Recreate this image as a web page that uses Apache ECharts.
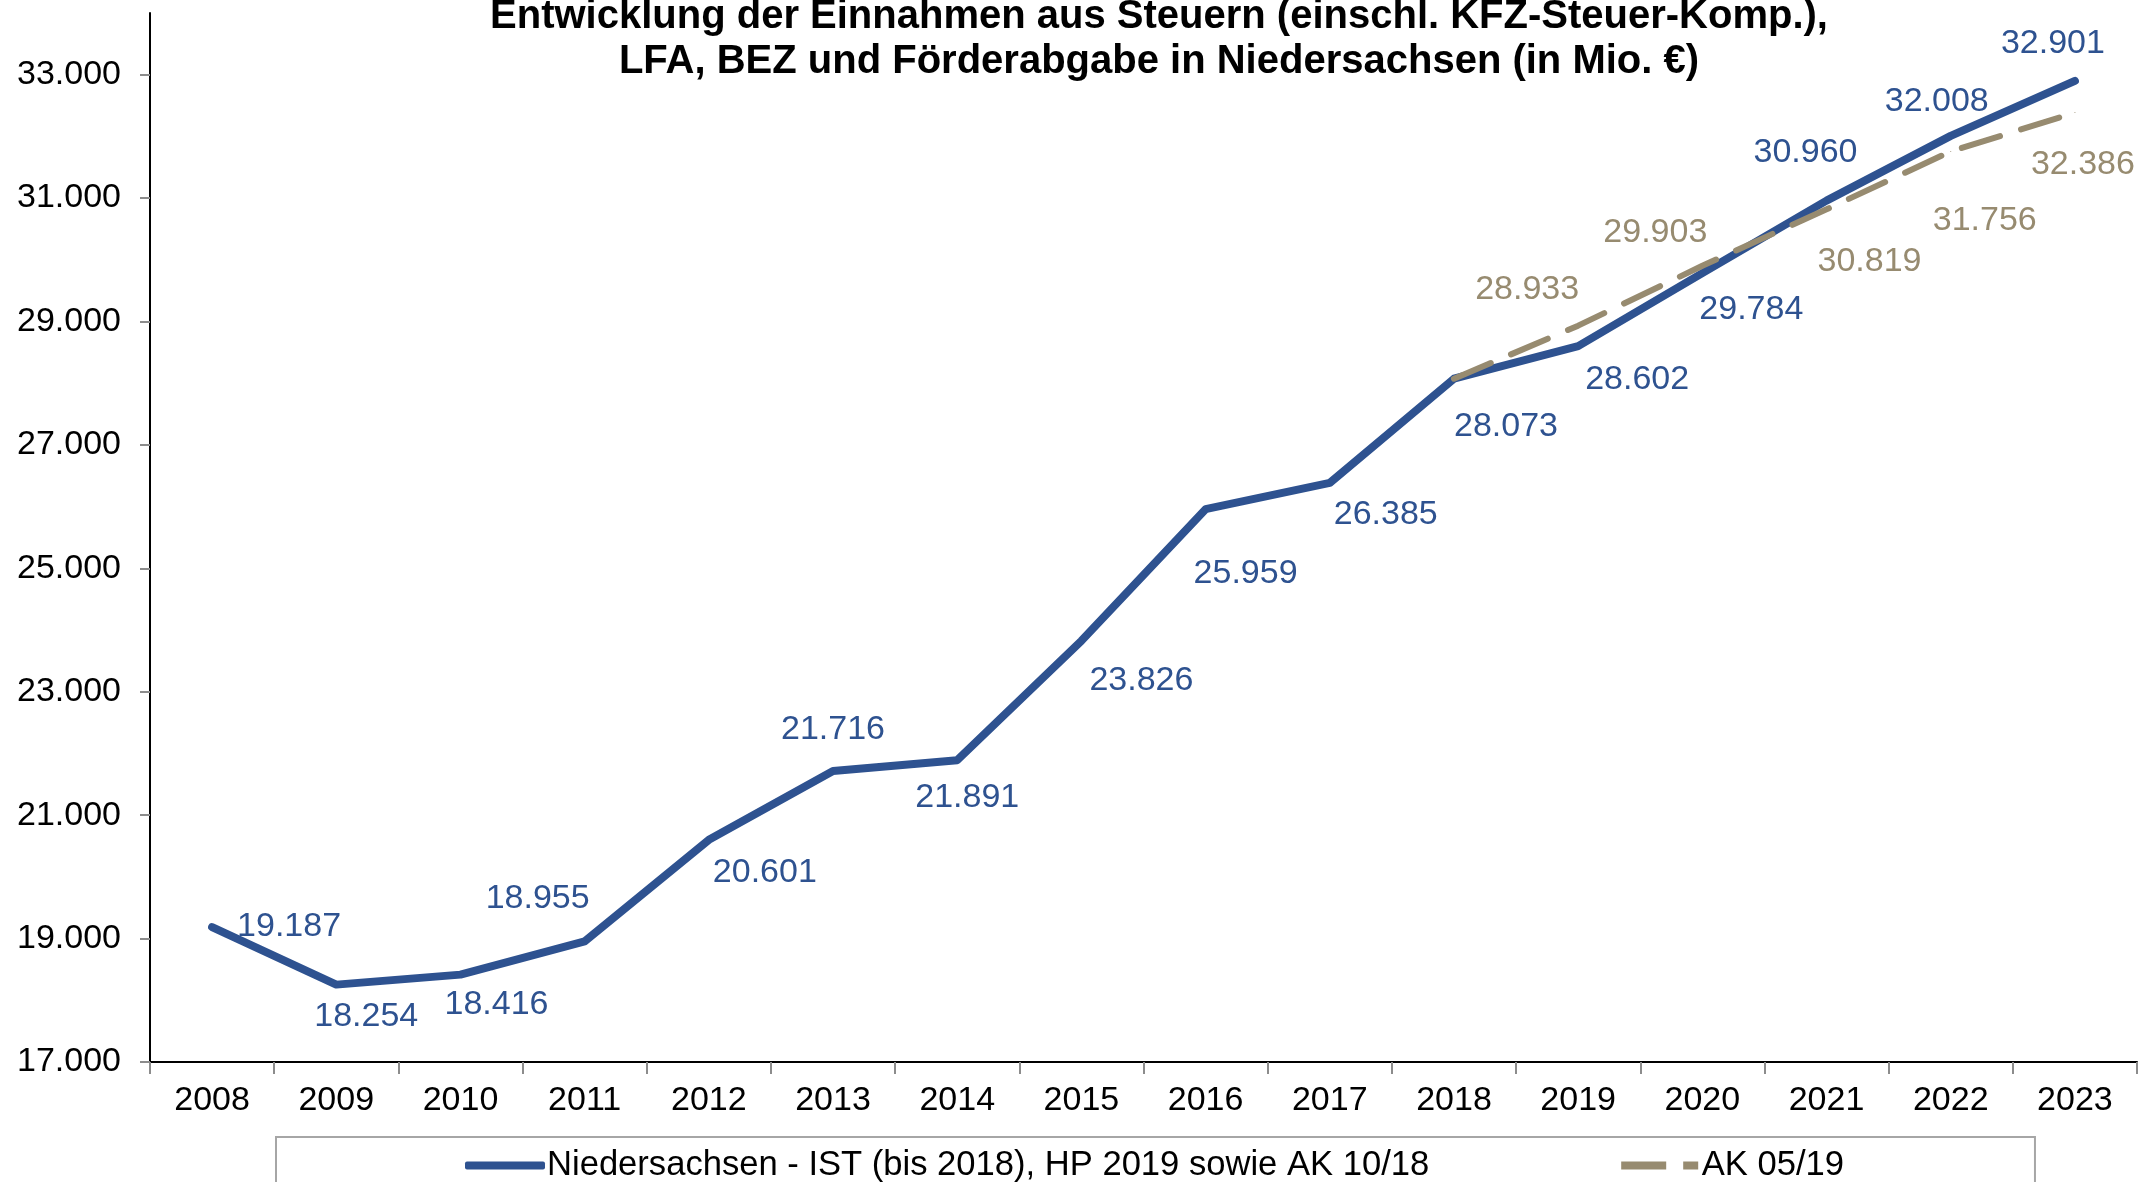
<!DOCTYPE html>
<html>
<head>
<meta charset="utf-8">
<script src="https://cdn.jsdelivr.net/npm/echarts@6/dist/echarts.min.js"></script>
<style>
html,body{margin:0;padding:0;background:#fff;}
#chart{width:2151px;height:1182px;}
</style>
</head>
<body>
<div id="chart"></div>
<script>
var years = ['2008','2009','2010','2011','2012','2013','2014','2015','2016','2017','2018','2019','2020','2021','2022','2023'];
var istValues = [19187, 18254, 18416, 18955, 20601, 21716, 21891, 23826, 25959, 26385, 28073, 28602, 29784, 30960, 32008, 32901];
var akValues = [null, null, null, null, null, null, null, null, null, null, 28073, 28933, 29903, 30819, 31756, 32386];
var yTicks = [17000, 19000, 21000, 23000, 25000, 27000, 29000, 31000, 33000];

// Label-Versatz (px) je Punkt, wie in der Vorlage
var istOffsets = [[77,0],[30,32],[36,30],[-47,-43],[56,33],[0,-41],[10,37],[60,40],[40,64],[56,32],[52,48],[59,34],[49,36],[-21,-48],[-14,-34],[-22,-37]];
var akOffsets = [null,null,null,null,null,null,null,null,null,null,null,[-51,-36],[-47,-33],[43,52],[34,69],[8,52]];

var blue = '#2E5290';
var tan = '#978B70';
var font = '"Liberation Sans", Arial, sans-serif';

function fmt(v){
    return String(v).replace(/\B(?=(\d{3})+(?!\d))/g, '.');
}

var istData = istValues.map(function(v, i){
    return {value: v, label: {offset: istOffsets[i]}};
});
var akData = akValues.map(function(v, i){
    if (v === null) return null;
    return {value: v, label: {show: akOffsets[i] !== null, offset: akOffsets[i] || [0,0]}};
});

var chart = echarts.init(document.getElementById('chart'));
chart.setOption({
    animation: false,
    title: {
        text: 'Entwicklung der Einnahmen aus Steuern (einschl. KFZ-Steuer-Komp.),\nLFA, BEZ und Förderabgabe in Niedersachsen (in Mio. €)',
        left: 1159,
        top: -6,
        padding: 0,
        textAlign: 'center',
        textStyle: {
            fontFamily: font,
            fontSize: 40,
            fontWeight: 'bold',
            lineHeight: 45,
            color: '#000'
        }
    },
    grid: {
        left: 150,
        right: 14,
        top: 13,
        bottom: 120
    },
    legend: {
        left: 276,
        top: 1137,
        padding: [11, 191, 40, 189],
        borderColor: '#a6a6a6',
        borderWidth: 2,
        itemWidth: 80,
        itemHeight: 8,
        itemGap: 192,
        textStyle: {fontFamily: font, fontSize: 34.6, color: '#000', padding: [0,0,0,-3]},
        data: [
            {name: 'Niedersachsen - IST (bis 2018), HP 2019 sowie AK 10/18', icon: 'roundRect'},
            {name: 'AK 05/19', icon: 'path://M0,0 L45,0 L45,8 L0,8 Z M62,0 L77,0 L77,8 L62,8 Z'}
        ]
    },
    xAxis: {
        type: 'category',
        data: years,
        boundaryGap: true,
        axisLine: {lineStyle: {color: '#000', width: 2}},
        axisTick: {show: true, length: 12, lineStyle: {color: '#8c8c8c', width: 2}},
        axisLabel: {fontFamily: font, fontSize: 34, color: '#000', margin: 22}
    },
    yAxis: {
        type: 'value',
        min: 17000,
        max: 34000,
        splitLine: {show: false},
        axisLine: {show: true, lineStyle: {color: '#000', width: 2}},
        axisTick: {show: true, length: 10, customValues: yTicks, lineStyle: {color: '#8c8c8c', width: 2}},
        axisLabel: {
            fontFamily: font, fontSize: 34, color: '#000', margin: 29,
            customValues: yTicks,
            formatter: function(v){ return fmt(v); }
        }
    },
    series: [
        {
            name: 'Niedersachsen - IST (bis 2018), HP 2019 sowie AK 10/18',
            type: 'line',
            data: istData,
            symbol: 'circle',
            symbolSize: 1,
            showSymbol: true,
            itemStyle: {color: blue},
            lineStyle: {color: blue, width: 8, cap: 'round', join: 'round'},
            label: {
                show: true,
                position: 'inside',
                fontFamily: font,
                fontSize: 34,
                color: blue,
                formatter: function(p){ return fmt(p.value); }
            },
            z: 3
        },
        {
            name: 'AK 05/19',
            type: 'line',
            data: akData,
            symbol: 'circle',
            symbolSize: 1,
            showSymbol: true,
            itemStyle: {color: tan},
            lineStyle: {color: tan, width: 6, type: [40, 22], cap: 'round'},
            label: {
                show: true,
                position: 'inside',
                fontFamily: font,
                fontSize: 34,
                color: tan,
                formatter: function(p){ return fmt(p.value); }
            },
            z: 4
        }
    ]
});
</script>
</body>
</html>
